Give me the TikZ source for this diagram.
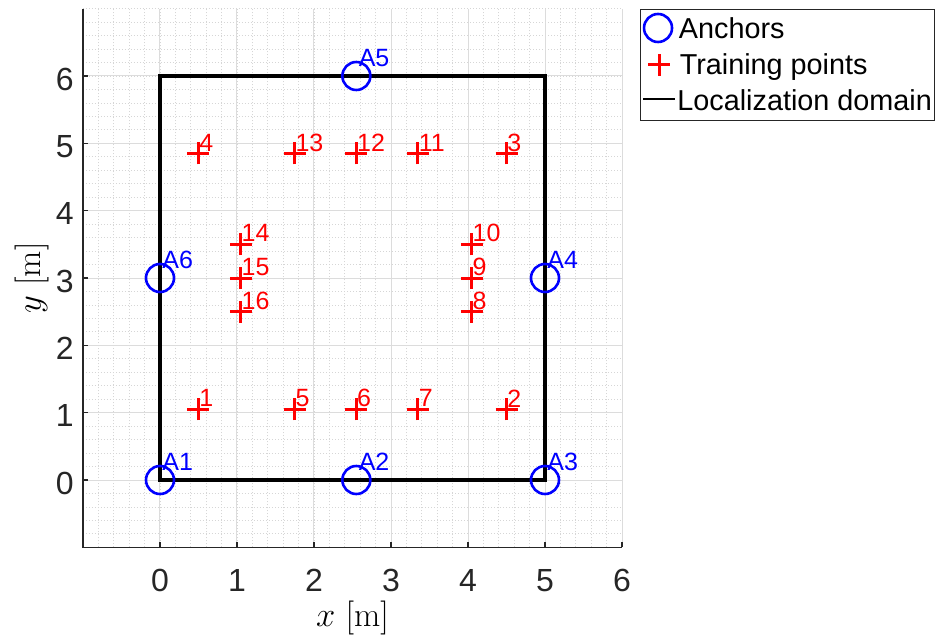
\documentclass[tikz,border=0pt]{standalone}
\usepackage{fontspec}
\newfontfamily\arialf{Liberation Sans}
\definecolor{axgray}{HTML}{262626}
\definecolor{majgridc}{HTML}{DCDCDC}
\definecolor{mingridc}{HTML}{D6D6D6}
\begin{document}
\begin{tikzpicture}[x=38.5pt,y=33.6667pt,
  majgrid/.style={draw=majgridc, line width=0.5pt},
  mingrid/.style={draw=mingridc, line width=0.4pt, dash pattern=on 0.5pt off 1pt},
  axisline/.style={draw=axgray, line width=0.6pt},
  ticklab/.style={font=\arialf\fontsize{16}{18}\selectfont, text=axgray, inner sep=0pt},
  domainline/.style={draw=black, line width=1.6pt},
  anc/.style={circle, draw=blue, line width=1.3pt, minimum size=14pt, inner sep=0pt},
  tpm/.style={draw=red, line width=1.5pt},
  tlab/.style={font=\arialf\fontsize{12.5}{14}\selectfont, text=red, inner sep=0pt, anchor=west},
  alab/.style={font=\arialf\fontsize{12.5}{14}\selectfont, text=blue, inner sep=0pt, anchor=west},
  legtext/.style={font=\arialf\fontsize{14.4}{16}\selectfont, inner sep=0pt, anchor=base west},
  axlab/.style={font=\fontsize{17}{19}\selectfont, inner sep=0pt},
]
\useasboundingbox (-2.0779,-2.3614) rectangle (10.1558,7.1287);

% minor grid
\foreach \i in {0,...,35} \draw[mingrid] ({-1+0.2*\i},-1) -- ({-1+0.2*\i},7);
\foreach \i in {0,...,40} \draw[mingrid] (-1,{-1+0.2*\i}) -- (6,{-1+0.2*\i});
% major grid
\foreach \x in {0,...,6} \draw[majgrid] (\x,-1) -- (\x,7);
\foreach \y in {0,...,6} \draw[majgrid] (-1,\y) -- (6,\y);

% axes
\draw[axisline] (-1,7) -- (-1,-1) -- (6,-1);
\foreach \x in {0,...,6} {
  \draw[axisline] (\x,-1) -- ++(0pt,2.5pt);
  \node[ticklab] (xt\x) at ([yshift=-16.5pt]\x,-1) {\x};
}
\foreach \y in {0,...,6} {
  \draw[axisline] (-1,\y) -- ++(2.5pt,0pt);
  \node[ticklab, anchor=east] (yt\y) at ([xshift=-4.5pt,yshift=-1.5pt]-1,\y) {\y};
}
\node[axlab] (xlab) at (2.5,-2.05) {$x$ [m]};
\node[axlab, rotate=90] (ylab) at (-1.662,3) {$y$ [m]};

% localization domain
\draw[domainline] (0,0) rectangle (5,6);

% training points
\foreach \n/\px/\py in {1/0.5/1.05, 2/4.5/1.05, 3/4.5/4.85, 4/0.5/4.85, 5/1.75/1.05, 6/2.55/1.05,
  7/3.35/1.05, 8/4.05/2.5, 9/4.05/3, 10/4.05/3.5, 11/3.35/4.85, 12/2.55/4.85, 13/1.75/4.85,
  14/1.05/3.5, 15/1.05/3, 16/1.05/2.5} {
  \coordinate (t\n) at (\px,\py);
  \draw[tpm] (t\n) +(-5.5pt,0pt) -- +(5.5pt,0pt) (t\n) +(0pt,-5.5pt) -- +(0pt,5.5pt);
  \node[tlab] (tl\n) at ([xshift=0.2pt,yshift=5.5pt]t\n) {\n};
}

% anchors
\foreach \n/\px/\py in {1/0/0, 2/2.55/0, 3/5/0, 4/5/3, 5/2.55/6, 6/0/3} {
  \node[anc] (a\n) at (\px,\py) {};
  \node[alab] (al\n) at ([xshift=1pt,yshift=9pt]a\n.center) {A\n};
}

% legend
\coordinate (legNW) at (6.234,6.995);
\coordinate (legSE) at (10.052,5.332);
\draw[draw=axgray, line width=0.5pt, fill=white] (legNW) rectangle (legSE);
\node[anc] (lega) at (6.468,6.713) {};
\node[legtext] (legat) at (6.735,6.550) {Anchors};
\coordinate (legt) at (6.481,6.164);
\draw[tpm] (legt) +(-5.5pt,0pt) -- +(5.5pt,0pt) (legt) +(0pt,-5.5pt) -- +(0pt,5.5pt);
\node[legtext] (legtt) at (6.745,6.015) {Training points};
\coordinate (legl1) at (6.273,5.659);
\coordinate (legl2) at (6.688,5.659);
\draw[draw=black, line width=1.4pt] (legl1) -- (legl2);
\node[legtext] (leglt) at (6.714,5.495) {Localization domain};
\end{tikzpicture}
\end{document}
